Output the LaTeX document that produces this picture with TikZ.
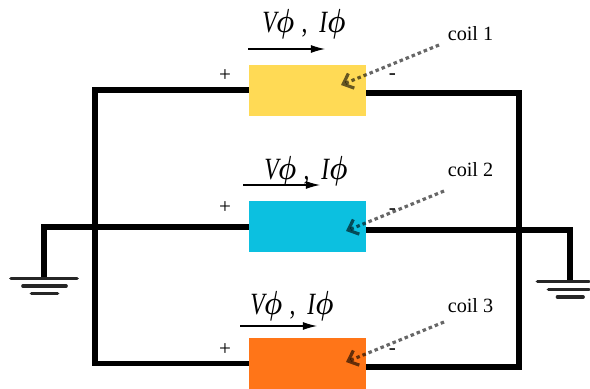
\documentclass[tikz,border=0pt]{standalone}
\usepackage[]{amsmath}
\usepackage[]{xcolor}
\usepackage{fontspec}
\setmainfont{Liberation Serif}
\usetikzlibrary{arrows.meta}
\definecolor{coilyellow}{HTML}{FFDA55}
\definecolor{coilblue}{HTML}{0CC0E0}
\definecolor{coilorange}{HTML}{FF7518}
\newcommand{\phasortext}{\scalebox{0.84}[1.1]{\textit{V}\kern-2pt$\boldsymbol{\phi}$\kern5pt,\kern8pt\textit{I}\kern-0.5pt$\boldsymbol{\phi}$}}
\tikzset{wire/.style = {line width = 3.4pt, black}}
\tikzset{coil/.style = {inner sep = 0, minimum width = 2.34cm, minimum height = 1.03cm}}
\tikzset{ground/.style = {line width = 2.1pt, line cap = round, black!85}}
\tikzset{pointer/.style = {line width = 1.8pt, black, opacity = 0.6, dash pattern = on 2pt off 1.7pt, -{Straight Barb[length=5pt,width=9pt]}}}
\tikzset{flow/.style = {line width = 0.6pt, -{Latex[length=8pt,width=4.5pt]}}}
\tikzset{phasor/.style = {font = \fontsize{16}{18}\selectfont}}
\tikzset{sign/.style = {font = \fontsize{12}{14}\selectfont}}
\tikzset{tag/.style = {font = \fontsize{11.5}{13}\selectfont}}
\begin{document}
\begin{tikzpicture}[x=0.02cm,y=-0.02cm]
        \useasboundingbox (0,0) rectangle (590,388);
        % ends of the wires
        \coordinate (in1) at (249,90);
        \coordinate (out1) at (366,93);
        \coordinate (in2) at (249,227);
        \coordinate (out2) at (366,230);
        \coordinate (in3) at (249,363.5);
        \coordinate (out3) at (366,367);
        \coordinate (gndL) at (44,278.5);
        \coordinate (gndR) at (570,281.5);
        % wires
        \draw [wire] (in1) -- (95,90) -- (95,363.5) -- (in3);
        \draw [wire] (out1) -- (519,93) -- (519,367) -- (out3);
        \draw [wire] (in2) -- (44,227) -- (gndL);
        \draw [wire] (out2) -- (570,230) -- (gndR);
        % coils
        \node [coil, fill=coilyellow] (coil1) at (307.5,90.25) {};
        \node [coil, fill=coilblue] (coil2) at (307.5,226.75) {};
        \node [coil, fill=coilorange] (coil3) at (307.5,364) {};
        % grounds
        \draw [ground] (11,278.5)--(77,278.5);
        \draw [ground] (23,286)--(66,286);
        \draw [ground] (31.5,293.5)--(57.5,293.5);
        \draw [ground] (537.5,281.5)--(589,281.5);
        \draw [ground] (548.5,289.5)--(589,289.5);
        \draw [ground] (557.5,297)--(583,297);
        % signs
        \node [sign] (plus1) at (225,75.5) {+};
        \node [sign] (plus2) at (225,207.5) {+};
        \node [sign] (plus3) at (225,349.5) {+};
        \node [sign] (minus1) at (392.5,76.5) {-};
        \node [sign] (minus2) at (392.5,212) {-};
        \node [sign] (minus3) at (392.5,351.5) {-};
        % voltage and current
        \node [phasor] (label1) at (304,24) {\phasortext};
        \node [phasor] (label2) at (306,171) {\phasortext};
        \node [phasor] (label3) at (292,306) {\phasortext};
        \coordinate (start1) at (248,49);
        \coordinate (end1) at (325,49);
        \coordinate (start2) at (243,185);
        \coordinate (end2) at (320,185);
        \coordinate (start3) at (240,326);
        \coordinate (end3) at (317,326);
        \draw [flow] (start1) -- (end1);
        \draw [flow] (start2) -- (end2);
        \draw [flow] (start3) -- (end3);
        % coil names
        \node [tag] (tag1) at (470.5,33.5) {coil 1};
        \node [tag] (tag2) at (470.5,170) {coil 2};
        \node [tag] (tag3) at (470.5,305.5) {coil 3};
        \coordinate (tip1) at (341,85);
        \coordinate (tip2) at (346,231);
        \coordinate (tip3) at (346,362);
        \draw [pointer] (439,45) -- (tip1);
        \draw [pointer] (444,191) -- (tip2);
        \draw [pointer] (444,322) -- (tip3);
    \end{tikzpicture}
\end{document}
